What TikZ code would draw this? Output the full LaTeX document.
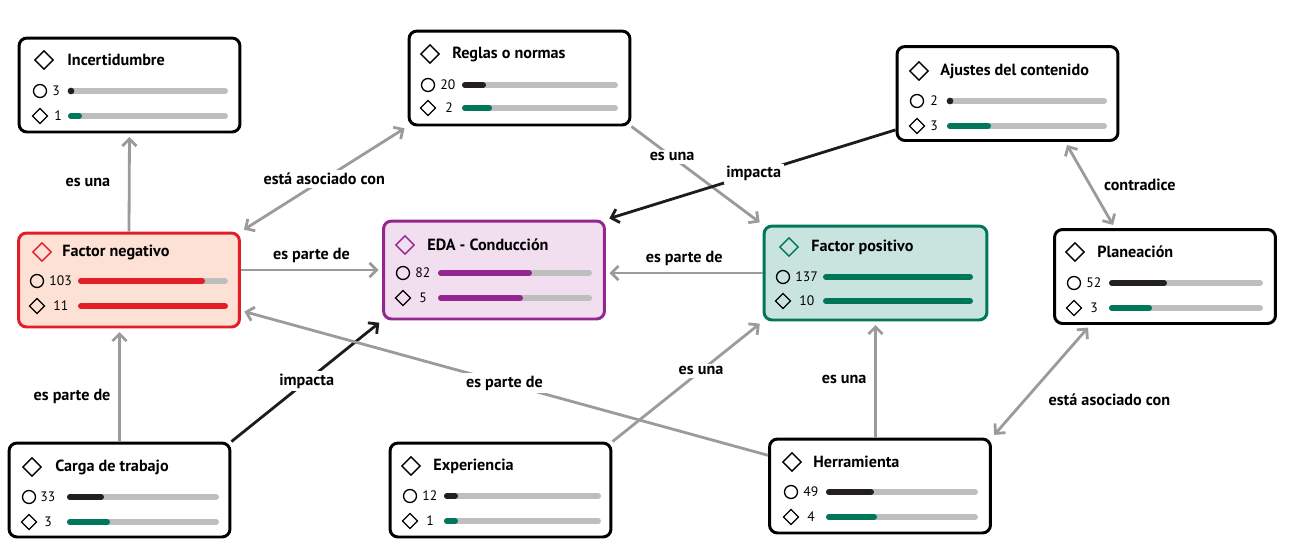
\documentclass[tikz,border=0pt]{standalone}
\usepackage{fontspec}
\setmainfont{PT Sans}
\usepackage{tikz}
\usetikzlibrary{arrows.meta, shapes.geometric}
\usepackage{xcolor}

\definecolor{negred}{RGB}{228,30,38}
\definecolor{negfill}{RGB}{252,225,212}
\definecolor{edapurple}{RGB}{147,39,143}
\definecolor{edafill}{RGB}{241,222,238}
\definecolor{posteal}{RGB}{0,119,90}
\definecolor{posfill}{RGB}{201,228,222}
\definecolor{bargray}{RGB}{190,190,190}
\definecolor{bardark}{RGB}{35,31,32}
\definecolor{linkgray}{RGB}{155,155,155}
\definecolor{hitblack}{RGB}{28,28,28}

\begin{document}
\begin{tikzpicture}[
        x=0.02cm, y=-0.02cm,
        card/.style={
            rectangle,
            draw,
            line width=1.7pt,
            rounded corners=0.16cm,
            minimum width=4.42cm,
            minimum height=1.88cm
        },
        title/.style={
            anchor=west,
            inner sep=0pt,
            font=\bfseries\fontsize{9.2}{11}\selectfont
        },
        num/.style={
            anchor=west,
            inner sep=0pt,
            font=\fontsize{7.8}{9}\selectfont
        },
        ttlicon/.style={diamond, draw, line width=0.8pt, minimum size=0.38cm, inner sep=0pt},
        rowdia/.style={diamond, draw, line width=0.75pt, minimum size=0.31cm, inner sep=0pt},
        rowcirc/.style={circle, draw, line width=0.75pt, minimum size=0.26cm, inner sep=0pt},
        track/.style={line width=3.4pt, line cap=round, draw=bargray},
        fillbar/.style={line width=3.4pt, line cap=round},
        link/.style={
            line width=1.6pt,
            draw=linkgray,
            shorten >=2pt,
            -{Straight Barb[length=4pt, width=8pt]}
        },
        both/.style={
            line width=1.6pt,
            draw=linkgray,
            shorten >=2pt, shorten <=2pt,
            {Straight Barb[length=4pt, width=8pt]}-{Straight Barb[length=4pt, width=8pt]}
        },
        hit/.style={
            line width=1.6pt,
            draw=hitblack,
            shorten >=2pt,
            -{Straight Barb[length=4pt, width=8pt]}
        },
        lbl/.style={
            fill=white,
            inner sep=1.5pt,
            font=\bfseries\fontsize{9.2}{11}\selectfont
        }
    ]
    \useasboundingbox (0,0) rectangle (1296,556);

    % Cards
    \node[card] (incert) at (129.5,85) {};
    \node[card] (reglas) at (519.5,78) {};
    \node[card] (ajustes) at (1007.5,93.5) {};
    \node[card, draw=negred, fill=negfill] (fneg) at (129,280) {};
    \node[card, draw=edapurple, fill=edafill, minimum height=1.96cm] (eda) at (494,270) {};
    \node[card, draw=posteal, fill=posfill, minimum width=4.46cm] (fpos) at (875.5,273) {};
    \node[card] (plan) at (1165,276.5) {};
    \node[card] (carga) at (119.5,490) {};
    \node[card] (exp) at (500.5,490) {};
    \node[card] (herr) at (880,486) {};

    % Incertidumbre
    \node[ttlicon] (incert-i) at (44,60) {};
    \node[title] (incert-t) at (67,60) {Incertidumbre};
    \node[rowcirc] (incert-c) at (40,91) {};
    \node[num] (incert-n1) at (52,91) {3};
    \node[rowdia] (incert-d) at (40,116) {};
    \node[num] (incert-n2) at (54,116) {1};
    \draw[track] (71,91) -- (225,91);
    \fill[bardark] (71,91) circle (1.9pt);
    \draw[track] (71,116) -- (225,116);
    \draw[fillbar, posteal] (71,116) -- (79,116);

    % Reglas o normas
    \node[ttlicon] (reglas-i) at (430,54) {};
    \node[title] (reglas-t) at (452,54) {Reglas o normas};
    \node[rowcirc] (reglas-c) at (428,85) {};
    \node[num] (reglas-n1) at (440,85) {20};
    \node[rowdia] (reglas-d) at (428,108) {};
    \node[num] (reglas-n2) at (445,108) {2};
    \draw[track] (465,85) -- (615,85);
    \draw[fillbar, bardark] (465,85) -- (483,85);
    \draw[track] (465,108) -- (615,108);
    \draw[fillbar, posteal] (465,108) -- (489,108);

    % Ajustes del contenido
    \node[ttlicon] (ajustes-i) at (919,71) {};
    \node[title] (ajustes-t) at (940,71) {Ajustes del contenido};
    \node[rowcirc] (ajustes-c) at (917,101) {};
    \node[num] (ajustes-n1) at (930,101) {2};
    \node[rowdia] (ajustes-d) at (917,126) {};
    \node[num] (ajustes-n2) at (930,126) {3};
    \draw[track] (950,101) -- (1104,101);
    \fill[bardark] (950,101) circle (1.9pt);
    \draw[track] (950,126) -- (1104,126);
    \draw[fillbar, posteal] (950,126) -- (988,126);

    % Factor negativo
    \node[ttlicon, draw=negred] (fneg-i) at (42,252) {};
    \node[title] (fneg-t) at (62,252) {Factor negativo};
    \node[rowcirc] (fneg-c) at (37,281) {};
    \node[num] (fneg-n1) at (49,281) {103};
    \node[rowdia] (fneg-d) at (37,306) {};
    \node[num] (fneg-n2) at (53,306) {11};
    \draw[track] (81,281) -- (225,281);
    \draw[fillbar, negred] (81,281) -- (202,281);
    \draw[fillbar, negred] (81,306) -- (225,306);

    % EDA - Conduccion
    \node[ttlicon, draw=edapurple] (eda-i) at (405,245) {};
    \node[title] (eda-t) at (427,245) {EDA - Conducción};
    \node[rowcirc] (eda-c) at (403,273) {};
    \node[num] (eda-n1) at (415,273) {82};
    \node[rowdia] (eda-d) at (403,298) {};
    \node[num] (eda-n2) at (419,298) {5};
    \draw[track] (441,273) -- (589,273);
    \draw[fillbar, edapurple] (441,273) -- (529,273);
    \draw[track] (441,298) -- (589,298);
    \draw[fillbar, edapurple] (441,298) -- (520,298);

    % Factor positivo
    \node[ttlicon, draw=posteal] (fpos-i) at (789,247) {};
    \node[title] (fpos-t) at (811,247) {Factor positivo};
    \node[rowcirc] (fpos-c) at (783,277) {};
    \node[num] (fpos-n1) at (795,277) {137};
    \node[rowdia] (fpos-d) at (783,301) {};
    \node[num] (fpos-n2) at (799,301) {10};
    \draw[fillbar, posteal] (826,277) -- (970,277);
    \draw[fillbar, posteal] (826,301) -- (970,301);

    % Planeacion
    \node[ttlicon] (plan-i) at (1075,252) {};
    \node[title] (plan-t) at (1097,252) {Planeación};
    \node[rowcirc] (plan-c) at (1074,283) {};
    \node[num] (plan-n1) at (1086,283) {52};
    \node[rowdia] (plan-d) at (1074,308) {};
    \node[num] (plan-n2) at (1090,308) {3};
    \draw[track] (1112,283) -- (1260,283);
    \draw[fillbar, bardark] (1112,283) -- (1164,283);
    \draw[track] (1112,308) -- (1260,308);
    \draw[fillbar, posteal] (1112,308) -- (1149,308);

    % Carga de trabajo
    \node[ttlicon] (carga-i) at (32,467) {};
    \node[title] (carga-t) at (55,467) {Carga de trabajo};
    \node[rowcirc] (carga-c) at (29,497) {};
    \node[num] (carga-n1) at (40,497) {33};
    \node[rowdia] (carga-d) at (29,522) {};
    \node[num] (carga-n2) at (44,522) {3};
    \draw[track] (70,497) -- (216,497);
    \draw[fillbar, bardark] (70,497) -- (101,497);
    \draw[track] (70,522) -- (216,522);
    \draw[fillbar, posteal] (70,522) -- (107,522);

    % Experiencia
    \node[ttlicon] (exp-i) at (411,466) {};
    \node[title] (exp-t) at (433,466) {Experiencia};
    \node[rowcirc] (exp-c) at (410,496) {};
    \node[num] (exp-n1) at (422,496) {12};
    \node[rowdia] (exp-d) at (410,521) {};
    \node[num] (exp-n2) at (426,521) {1};
    \draw[track] (447,496) -- (598,496);
    \draw[fillbar, bardark] (447,496) -- (455,496);
    \draw[track] (447,521) -- (598,521);
    \draw[fillbar, posteal] (447,521) -- (455,521);

    % Herramienta
    \node[ttlicon] (herr-i) at (792,462) {};
    \node[title] (herr-t) at (813,462) {Herramienta};
    \node[rowcirc] (herr-c) at (791,492) {};
    \node[num] (herr-n1) at (803,492) {49};
    \node[rowdia] (herr-d) at (791,517) {};
    \node[num] (herr-n2) at (807,517) {4};
    \draw[track] (829,492) -- (975,492);
    \draw[fillbar, bardark] (829,492) -- (871,492);
    \draw[track] (829,517) -- (975,517);
    \draw[fillbar, posteal] (829,517) -- (874,517);

    % Links
    \draw[link] (fneg.north) -- node[lbl, left=0.3cm] (l-una1) {es una} (incert.south);
    \draw[both] (fneg.north east) -- node[lbl] (l-asoc1) {está asociado con} (reglas.south west);
    \draw[link] (reglas.south east) -- node[lbl, pos=0.31] (l-una2) {es una} (fpos.north west);
    \draw[hit] (ajustes.198) -- node[lbl, pos=0.49] (l-imp1) {impacta} (eda.north east);
    \draw[both] (ajustes.-40) -- node[lbl, right=0.2cm] (l-contra) {contradice} (plan.136);
    \draw[link] (eda.west -| fneg.east) -- node[lbl, above=2pt] (l-parte1) {es parte de} (eda.west);
    \draw[link] (fpos.west) -- node[lbl, above=2pt] (l-parte2) {es parte de} (fpos.west -| eda.east);
    \draw[link] (carga.north) -- node[lbl, pos=0.4, left=0.1cm] (l-parte3) {es parte de} (carga.north |- fneg.south);
    \draw[hit] (carga.north east) -- node[lbl] (l-imp2) {impacta} (eda.south west);
    \draw[link] (herr) -- node[lbl, pos=0.5] (l-parte4) {es parte de} (fneg);
    \draw[link] (exp.north east) -- node[lbl, pos=0.59] (l-una3) {es una} (fpos.south west);
    \draw[link] (herr.north -| fpos.south) -- node[lbl, left=0.1cm] (l-una4) {es una} (fpos.south);
    \draw[both] (herr.north east) -- node[lbl, anchor=north west, xshift=2pt, yshift=-5pt] (l-asoc2) {está asociado con} (plan.213);

\end{tikzpicture}
\end{document}
